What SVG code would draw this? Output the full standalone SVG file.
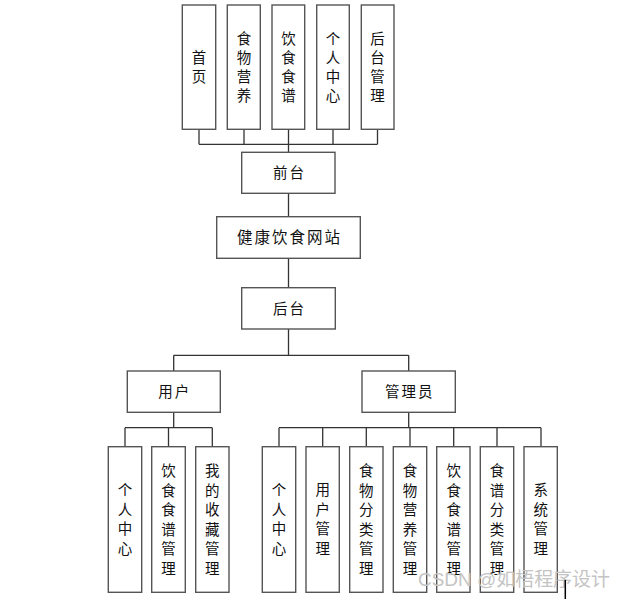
<svg xmlns="http://www.w3.org/2000/svg" width="624" height="599" viewBox="0 0 624 599">
<style>
.box{fill:#fff;stroke:#555;stroke-width:1.4}
.t{font-family:"Noto Sans CJK SC","Noto Sans CJK JP",sans-serif;font-size:14.5px;fill:#111;text-anchor:middle}
.h{letter-spacing:2px}
.c{fill:none;stroke:#333;stroke-width:1.3}
.wm{font-family:"Liberation Sans","Noto Sans CJK SC",sans-serif;font-size:19px;fill:#c4c4c4}
</style>
<rect width="624" height="599" fill="#fff"/>
<g id="connectors">
<path class="c" d="M199,129V144.3M244,129V144.3M333,129V144.3M377.5,129V144.3M199,144.3H377.5M288.5,129V152.5"/>
<path class="c" d="M288.5,193.5V216.7M288.5,258.3V287.7M288.5,329V355.3M173.7,355.3H408.7M173.7,355.3V371M408.7,355.3V371"/>
<path class="c" d="M173.7,412.3V427.7M125,427.7H212.3M125,427.7V446.7M168.5,427.7V446.7M212.3,427.7V446.7"/>
<path class="c" d="M408.7,412.3V427.7M279,427.7H541M279,427.7V446.7M322.7,427.7V446.7M366.3,427.7V446.7M410,427.7V446.7M453.7,427.7V446.7M497,427.7V446.7M541,427.7V446.7"/>
</g>
<g id="n-shouye"><rect class="box" x="182.3" y="5" width="33.4" height="124.3"/><text class="t"><tspan x="199" y="62.5">首</tspan><tspan x="199" y="81.5">页</tspan></text></g>
<g id="n-shiwuyingyang"><rect class="box" x="227.3" y="5" width="33" height="124.3"/><text class="t"><tspan x="244" y="43.5">食</tspan><tspan x="244" y="62.5">物</tspan><tspan x="244" y="81.5">营</tspan><tspan x="244" y="100.5">养</tspan></text></g>
<g id="n-yinshishipu"><rect class="box" x="272" y="5" width="32.7" height="124.3"/><text class="t"><tspan x="288.5" y="43.5">饮</tspan><tspan x="288.5" y="62.5">食</tspan><tspan x="288.5" y="81.5">食</tspan><tspan x="288.5" y="100.5">谱</tspan></text></g>
<g id="n-gerenzhongxin-top"><rect class="box" x="316.7" y="5" width="32.6" height="124.3"/><text class="t"><tspan x="333" y="43.5">个</tspan><tspan x="333" y="62.5">人</tspan><tspan x="333" y="81.5">中</tspan><tspan x="333" y="100.5">心</tspan></text></g>
<g id="n-houtaiguanli"><rect class="box" x="361.3" y="5" width="32.7" height="124.3"/><text class="t"><tspan x="377.5" y="43.5">后</tspan><tspan x="377.5" y="62.5">台</tspan><tspan x="377.5" y="81.5">管</tspan><tspan x="377.5" y="100.5">理</tspan></text></g>
<g id="n-qiantai"><rect class="box" x="241.7" y="152.3" width="93.3" height="41"/><text class="t h" x="289.5" y="178">前台</text></g>
<g id="n-site"><rect class="box" x="216.7" y="216.7" width="143.6" height="41.6"/><text class="t h" x="289.5" y="243" style="font-size:15.5px">健康饮食网站</text></g>
<g id="n-houtai"><rect class="box" x="241.7" y="287.7" width="93.6" height="41.3"/><text class="t h" x="289.5" y="313.5">后台</text></g>
<g id="n-yonghu"><rect class="box" x="127.3" y="371" width="93" height="41.3"/><text class="t h" x="174.7" y="397">用户</text></g>
<g id="n-guanliyuan"><rect class="box" x="362" y="371" width="93.3" height="41.3"/><text class="t h" x="409.7" y="397">管理员</text></g>
<g id="u-gerenzhongxin"><rect class="box" x="108.3" y="446.7" width="33.4" height="145.6"/><text class="t"><tspan x="125" y="495">个</tspan><tspan x="125" y="514.5">人</tspan><tspan x="125" y="534">中</tspan><tspan x="125" y="553.5">心</tspan></text></g>
<g id="u-yinshishipuguanli"><rect class="box" x="151.7" y="446.7" width="33.6" height="145.6"/><text class="t"><tspan x="168.5" y="476">饮</tspan><tspan x="168.5" y="495.5">食</tspan><tspan x="168.5" y="515">食</tspan><tspan x="168.5" y="534.5">谱</tspan><tspan x="168.5" y="554">管</tspan><tspan x="168.5" y="573.5">理</tspan></text></g>
<g id="u-wodeshoucangguanli"><rect class="box" x="195.7" y="446.7" width="33.3" height="145.6"/><text class="t"><tspan x="212.3" y="476">我</tspan><tspan x="212.3" y="495.5">的</tspan><tspan x="212.3" y="515">收</tspan><tspan x="212.3" y="534.5">藏</tspan><tspan x="212.3" y="554">管</tspan><tspan x="212.3" y="573.5">理</tspan></text></g>
<g id="a-gerenzhongxin"><rect class="box" x="262.3" y="446.7" width="33.4" height="145.6"/><text class="t"><tspan x="279" y="495">个</tspan><tspan x="279" y="514.5">人</tspan><tspan x="279" y="534">中</tspan><tspan x="279" y="553.5">心</tspan></text></g>
<g id="a-yonghuguanli"><rect class="box" x="306" y="446.7" width="33.3" height="145.6"/><text class="t"><tspan x="322.7" y="495">用</tspan><tspan x="322.7" y="514.5">户</tspan><tspan x="322.7" y="534">管</tspan><tspan x="322.7" y="553.5">理</tspan></text></g>
<g id="a-shiwufenleiguanli"><rect class="box" x="349.7" y="446.7" width="33.3" height="145.6"/><text class="t"><tspan x="366.3" y="476">食</tspan><tspan x="366.3" y="495.5">物</tspan><tspan x="366.3" y="515">分</tspan><tspan x="366.3" y="534.5">类</tspan><tspan x="366.3" y="554">管</tspan><tspan x="366.3" y="573.5">理</tspan></text></g>
<g id="a-shiwuyingyangguanli"><rect class="box" x="393.3" y="446.7" width="33.4" height="145.6"/><text class="t"><tspan x="410" y="476">食</tspan><tspan x="410" y="495.5">物</tspan><tspan x="410" y="515">营</tspan><tspan x="410" y="534.5">养</tspan><tspan x="410" y="554">管</tspan><tspan x="410" y="573.5">理</tspan></text></g>
<g id="a-yinshishipuguanli"><rect class="box" x="436.7" y="446.7" width="33.3" height="145.6"/><text class="t"><tspan x="453.7" y="476">饮</tspan><tspan x="453.7" y="495.5">食</tspan><tspan x="453.7" y="515">食</tspan><tspan x="453.7" y="534.5">谱</tspan><tspan x="453.7" y="554">管</tspan><tspan x="453.7" y="573.5">理</tspan></text></g>
<g id="a-shipufenleiguanli"><rect class="box" x="480.3" y="446.7" width="33.4" height="145.6"/><text class="t"><tspan x="497" y="476">食</tspan><tspan x="497" y="495.5">谱</tspan><tspan x="497" y="515">分</tspan><tspan x="497" y="534.5">类</tspan><tspan x="497" y="554">管</tspan><tspan x="497" y="573.5">理</tspan></text></g>
<g id="a-xitongguanli"><rect class="box" x="524" y="446.7" width="33.3" height="145.6"/><text class="t"><tspan x="540.7" y="495">系</tspan><tspan x="540.7" y="514.5">统</tspan><tspan x="540.7" y="534">管</tspan><tspan x="540.7" y="553.5">理</tspan></text></g>
<text class="wm" x="418" y="586" textLength="192" lengthAdjust="spacingAndGlyphs">CSDN @如梧程序设计</text>
<line x1="565.3" y1="580" x2="565.3" y2="599" stroke="#000" stroke-width="1.5"/>
</svg>
